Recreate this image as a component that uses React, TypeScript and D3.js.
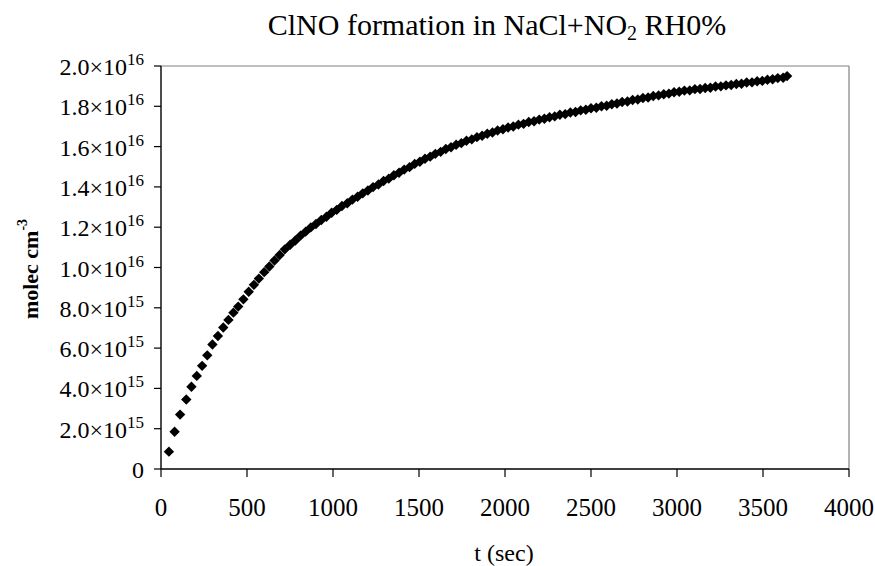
import React from "react";
import * as d3 from "d3";

// ---- data (t in seconds, concentration in molec cm^-3 ×1e15) ----
const samples: [number, number][] = [
  [46, 0.86], [79, 1.85], [111, 2.7], [147, 3.45], [177, 4.08], [208, 4.62], [239, 5.12], [269, 5.64],
  [299, 6.18], [331, 6.6], [362, 7.02], [392, 7.4], [421, 7.76], [449, 8.06], [479, 8.42], [510, 8.8],
  [540, 9.14], [569, 9.45], [600, 9.77], [630, 10.05], [660, 10.35], [690, 10.62], [720, 10.9], [751, 11.13],
  [781, 11.34], [811, 11.58], [841, 11.78], [871, 11.99], [901, 12.16], [932, 12.36], [962, 12.52], [992, 12.72],
  [1022, 12.86], [1052, 13.05], [1083, 13.19], [1113, 13.37], [1143, 13.51], [1173, 13.68], [1203, 13.82], [1233, 13.99],
  [1264, 14.12], [1294, 14.29], [1324, 14.41], [1354, 14.58], [1384, 14.7], [1414, 14.86], [1445, 14.98], [1475, 15.14],
  [1505, 15.25], [1535, 15.4], [1565, 15.5], [1595, 15.64], [1626, 15.74], [1656, 15.88], [1686, 15.97], [1716, 16.09],
  [1746, 16.17], [1776, 16.29], [1807, 16.36], [1837, 16.47], [1867, 16.54], [1897, 16.64], [1927, 16.7], [1957, 16.8],
  [1988, 16.86], [2018, 16.95], [2048, 17.0], [2078, 17.09], [2108, 17.13], [2138, 17.22], [2169, 17.26], [2199, 17.34],
  [2229, 17.38], [2259, 17.46], [2289, 17.5], [2319, 17.58], [2350, 17.61], [2380, 17.69], [2410, 17.72], [2440, 17.8],
  [2470, 17.83], [2500, 17.9], [2531, 17.93], [2561, 18.0], [2591, 18.03], [2621, 18.1], [2651, 18.14], [2681, 18.21],
  [2712, 18.24], [2742, 18.31], [2772, 18.34], [2802, 18.41], [2832, 18.44], [2862, 18.51], [2893, 18.54], [2923, 18.6],
  [2953, 18.63], [2983, 18.7], [3013, 18.72], [3043, 18.78], [3074, 18.79], [3104, 18.85], [3134, 18.86], [3164, 18.91],
  [3194, 18.92], [3224, 18.98], [3255, 18.99], [3285, 19.04], [3315, 19.06], [3345, 19.11], [3375, 19.12], [3405, 19.18],
  [3436, 19.19], [3466, 19.24], [3496, 19.26], [3526, 19.32], [3556, 19.34], [3586, 19.4], [3617, 19.42], [3640, 19.5],
];

const xTicks = [0, 500, 1000, 1500, 2000, 2500, 3000, 3500, 4000];
const yTicks = [0, 2e15, 4e15, 6e15, 8e15, 1e16, 1.2e16, 1.4e16, 1.6e16, 1.8e16, 2e16];
const yTickMantissa = ["0", "2.0×10", "4.0×10", "6.0×10", "8.0×10", "1.0×10", "1.2×10", "1.4×10", "1.6×10", "1.8×10", "2.0×10"];
const yTickExponent = ["", "15", "15", "15", "15", "16", "16", "16", "16", "16", "16"];

const titleMain = "ClNO formation in NaCl+NO";
const titleSub = "2";
const titleTail = " RH0%";
const xTitle = "t (sec)";
const yTitle = "molec cm";
const yTitleSup = "-3";

const W = 875;
const H = 566;
const plot = { left: 161, right: 849, top: 66, bottom: 469 };
const FONT = "'Liberation Serif', 'Times New Roman', serif";

export default function App() {
  const x = d3.scaleLinear().domain([0, 4000]).range([plot.left, plot.right]);
  const y = d3.scaleLinear().domain([0, 2e16]).range([plot.bottom, plot.top]);
  const diamond = d3.symbol().type(d3.symbolSquare).size(54)() as string;

  return (
    <svg
      width={W}
      height={H}
      viewBox={`0 0 ${W} ${H}`}
      style={{ position: "absolute", left: 0, top: 0, background: "#fff" }}
      fontFamily={FONT}
    >
      <rect x={0} y={0} width={W} height={H} fill="#fff" />
      {/* title */}
      <text x={497} y={35} fontSize={30} textAnchor="middle" fill="#000">
        {titleMain}
        <tspan fontSize={20} dy={5}>{titleSub}</tspan>
        <tspan dy={-5}>{titleTail}</tspan>
      </text>

      {/* plot frame */}
      <line x1={plot.left} x2={plot.right} y1={plot.top} y2={plot.top} stroke="#808080" strokeWidth={1.2} />
      <line x1={plot.right} x2={plot.right} y1={plot.top} y2={plot.bottom} stroke="#808080" strokeWidth={1.2} />

      {/* axes */}
      <line x1={plot.left} x2={plot.left} y1={plot.top} y2={plot.bottom} stroke="#000" strokeWidth={1.4} />
      <line x1={plot.left} x2={plot.right} y1={plot.bottom} y2={plot.bottom} stroke="#000" strokeWidth={1.4} />

      {yTicks.map((v, i) => (
        <g key={"y" + i}>
          <line x1={plot.left - 7} x2={plot.left} y1={y(v)} y2={y(v)} stroke="#000" strokeWidth={1.2} />
          <text x={144} y={y(v) + 9} fontSize={24} textAnchor="end" fill="#000">
            {yTickMantissa[i]}
            {yTickExponent[i] && (
              <tspan fontSize={17} dy={-10}>{yTickExponent[i]}</tspan>
            )}
          </text>
        </g>
      ))}

      {xTicks.map((v, i) => (
        <g key={"x" + i}>
          <line x1={x(v)} x2={x(v)} y1={plot.bottom} y2={plot.bottom + 8} stroke="#000" strokeWidth={1.2} />
          <text x={x(v)} y={516} fontSize={25} textAnchor="middle" fill="#000">
            {v}
          </text>
        </g>
      ))}

      {/* axis titles */}
      <text x={504} y={561} fontSize={24} textAnchor="middle" fill="#000">
        {xTitle}
      </text>
      <text transform="translate(38,269) rotate(-90)" fontSize={22} fontWeight="bold" textAnchor="middle" fill="#000">
        {yTitle}
        <tspan fontSize={14} dy={-11}>{yTitleSup}</tspan>
      </text>

      {/* markers */}
      {samples.map(([t, c], i) => (
        <path
          key={"p" + i}
          d={diamond}
          transform={`translate(${x(t)},${y(c * 1e15)}) rotate(45)`}
          fill="#000"
        />
      ))}
    </svg>
  );
}
